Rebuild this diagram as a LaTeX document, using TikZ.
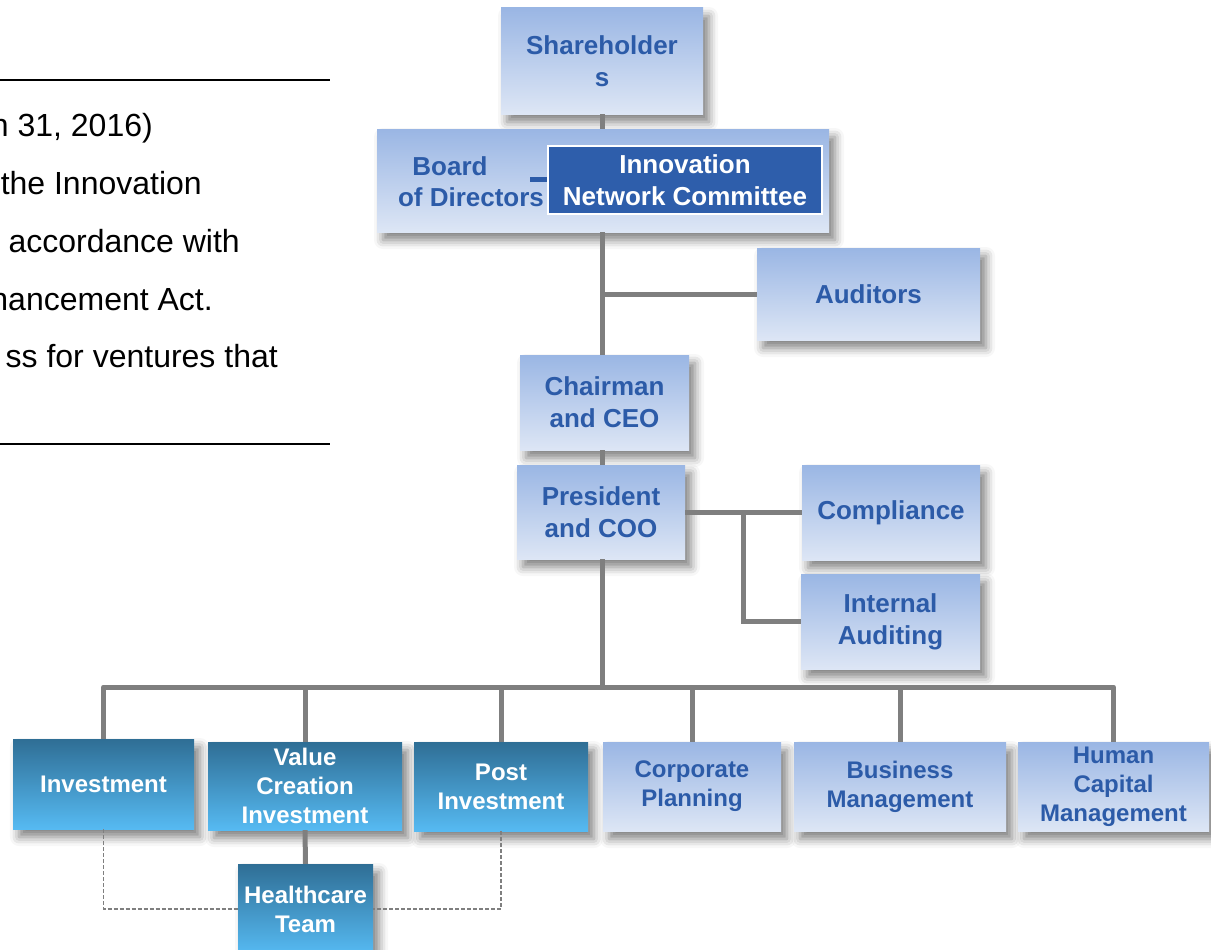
\documentclass[tikz,border=0pt]{standalone}
\usepackage{fontspec}
\setmainfont{Liberation Sans}
\usetikzlibrary{shadows.blur}

\definecolor{lighttop}{HTML}{9AB6E4}
\definecolor{lightbot}{HTML}{DDE6F5}
\definecolor{darktop}{HTML}{2F6E95}
\definecolor{darkbot}{HTML}{56BAF2}
\definecolor{txtblue}{HTML}{2C5BA8}
\definecolor{innblue}{HTML}{2E5EAB}
\definecolor{conn}{HTML}{7F7F7F}

\tikzset{
  wh/.style 2 args={minimum width=#1pt, minimum height=#2pt},
  boxshadow/.style={blur shadow={shadow xshift=6pt, shadow yshift=-8pt, shadow blur radius=9pt, shadow opacity=50}},
  lbox/.style={rectangle, inner sep=0pt, top color=lighttop, bottom color=lightbot, boxshadow,
    text=txtblue, font=\fontsize{26}{32}\selectfont\bfseries, align=center},
  dbox/.style={rectangle, inner sep=0pt, top color=darktop, bottom color=darkbot, boxshadow,
    text=white, font=\fontsize{24}{29}\selectfont\bfseries, align=center},
  innbox/.style={rectangle, inner sep=0pt, fill=innblue, draw=white, line width=1.5pt,
    text=white, font=\fontsize{26}{32}\selectfont\bfseries, align=center},
  boardtxt/.style={text=txtblue, font=\fontsize{26}{32}\selectfont\bfseries, anchor=base, inner sep=0pt},
  link/.style={draw=conn, line width=5pt},
  dlink/.style={draw=conn, line width=1.3pt, dash pattern=on 4pt off 2pt},
  note/.style={font=\fontsize{32}{38}\selectfont, anchor=base east, inner sep=0pt},
  rulebar/.style={draw=black, line width=2pt},
}

\begin{document}
\begin{tikzpicture}[x=1pt,y=-1pt]
\useasboundingbox (0,0) rectangle (1211,950);

% left text fragment
\coordinate (r1a) at (0,80);
\coordinate (r1b) at (330,80);
\coordinate (r2a) at (0,444);
\coordinate (r2b) at (330,444);
\draw[rulebar] (r1a) -- (r1b);
\draw[rulebar] (r2a) -- (r2b);
\node[note] (l1) at (153,136) {n 31, 2016)};
\node[note] (l2) at (202,194) {the Innovation};
\node[note] (l3) at (240,252) {accordance with};
\node[note] (l4) at (213,310) {nancement Act.};
\node[note] (l5) at (278,367) {ss for ventures that};

% boxes
\node[lbox, wh={202}{106}] (sh) at (602,61) {Shareholder\\s};
\node[lbox, wh={452}{103}] (board) at (603,180.5) {};
\node[boardtxt] (bd1) at (450,175) {Board};
\node[boardtxt] (bd2) at (471,206) {of Directors};
\node[innbox, wh={274}{68}] (inn) at (685,180) {Innovation\\Network Committee};
\coordinate (dashL) at (530,179);
\draw[txtblue, line width=5pt] (dashL) -- (dashL -| inn.west);

\node[lbox, wh={223}{92}] (aud) at (868.5,294) {Auditors};
\node[lbox, wh={169}{95}] (ceo) at (604.5,402.5) {Chairman\\and CEO};
\node[lbox, wh={168}{94}] (pres) at (601,512) {President\\and COO};
\node[lbox, wh={178}{95}] (comp) at (891,512.5) {Compliance};
\node[lbox, wh={179}{95}] (ia) at (890.5,621.5) {Internal\\Auditing};

\node[dbox, wh={181}{90}] (inv) at (103.5,784) {Investment};
\node[dbox, wh={194}{88}] (vci) at (305,786) {Value\\Creation\\Investment};
\node[dbox, wh={174}{89}] (post) at (501,786.5) {Post\\Investment};
\node[lbox, wh={178}{89}, font=\fontsize{24}{29}\selectfont\bfseries] (corp) at (692,786.5) {Corporate\\Planning};
\node[lbox, wh={212}{89}, font=\fontsize{24}{29}\selectfont\bfseries] (busm) at (900,786.5) {Business\\Management};
\node[lbox, wh={191}{89}, font=\fontsize{24}{29}\selectfont\bfseries] (hcm) at (1113.5,786.5) {Human\\Capital\\Management};
\node[dbox, wh={135}{90}] (hc) at (305.5,909) {Healthcare\\Team};

% connectors
\draw[link] (sh.south) -- (sh.south |- board.north);
\draw[link] (sh.south |- board.south) -- (sh.south |- ceo.north);
\draw[link] (aud.west) -- (aud.west -| sh.south);
\draw[link] (sh.south |- ceo.south) -- (sh.south |- pres.north);
\draw[link] (pres.east) -- (comp.west |- pres.east);
\coordinate (jn) at (743,512);
\draw[link] (jn) |- (ia.west);
\coordinate (busc) at (602,687);
\draw[link] (sh.south |- pres.south) -- (busc);
\draw[link, line join=round] (inv.north) |- (busc) -| (hcm.north);
\draw[link] (vci.north) -- (vci.north |- busc);
\draw[link] (post.north) -- (post.north |- busc);
\draw[link] (corp.north) -- (corp.north |- busc);
\draw[link] (busm.north) -- (busm.north |- busc);
\draw[link] (vci.south) -- (hc.north);
\draw[dlink] (inv.south) |- (hc.west);
\draw[dlink] (post.south) |- (hc.east);
\end{tikzpicture}
\end{document}
